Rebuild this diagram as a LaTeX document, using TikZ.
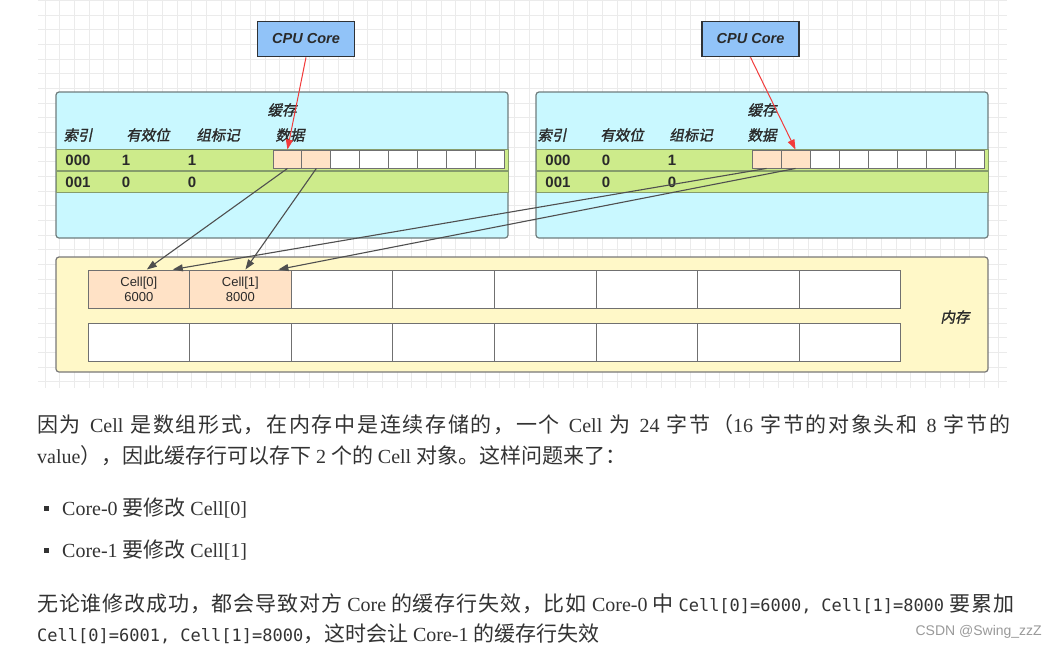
\documentclass[tikz,border=0pt]{standalone}
\usepackage{fontspec}
\setmainfont{Liberation Serif}
\newfontfamily\zh{Noto Sans CJK SC}[Scale=1.05]
\newfontfamily\zha{Noto Sans CJK SC}[Scale=1.05,LetterSpace=8]
\newfontfamily\zhb{Noto Sans CJK SC}[Scale=1.05,LetterSpace=4]
\newfontfamily\zhbi{Noto Sans CJK SC}[FakeSlant=0.2,FakeBold=1.5]
\newfontfamily\arial{Liberation Sans}
\newfontfamily\code{DejaVu Sans Mono}
\newcommand\en{\rmfamily}
\newcommand\cd{\code\fontsize{17}{20}\selectfont}
\usetikzlibrary{arrows.meta}
\definecolor{gridc}{HTML}{EBEBEB}
\definecolor{cpufill}{HTML}{91C3F8}
\definecolor{cpuborder}{HTML}{2E3236}
\definecolor{cachefill}{HTML}{C9F8FF}
\definecolor{cacheborder}{HTML}{6F7D7D}
\definecolor{rowfill}{HTML}{CDEB8B}
\definecolor{rowborder}{HTML}{869C6C}
\definecolor{cellorange}{HTML}{FFE2C6}
\definecolor{cellborder}{HTML}{707070}
\definecolor{memfill}{HTML}{FFF8C8}
\definecolor{memborder}{HTML}{787878}
\definecolor{redline}{HTML}{F23B3B}
\definecolor{grayline}{HTML}{4F4F4F}
\definecolor{textdark}{HTML}{2A2A2A}
\definecolor{paratext}{HTML}{333333}
\definecolor{wmark}{HTML}{9A9A9A}
\tikzset{
  gridline/.style={draw=gridc, line width=0.7pt},
  cpubox/.style={draw=cpuborder, fill=cpufill, line width=1.6pt, minimum width=97pt, minimum height=35pt, inner sep=0pt, text=textdark, font=\arial\bfseries\itshape\fontsize{14.5}{16}\selectfont},
  cachebox/.style={draw=cacheborder, fill=cachefill, line width=1.2pt, rounded corners=3pt, minimum width=452pt, minimum height=146pt, inner sep=0pt},
  rowbox/.style={draw=rowborder, fill=rowfill, line width=1pt, minimum width=452pt, minimum height=21pt, inner sep=0pt},
  dcell/.style={draw=cellborder, fill=white, line width=0.9pt, minimum width=28.9pt, minimum height=18pt, inner sep=0pt},
  dcello/.style={dcell, fill=cellorange},
  membox/.style={draw=memborder, fill=memfill, line width=1.2pt, rounded corners=3pt, minimum width=932pt, minimum height=115pt, inner sep=0pt},
  mcell/.style={draw=cellborder, fill=white, line width=1pt, minimum width=101.6pt, minimum height=38pt, inner sep=0pt, align=center, text=textdark, font=\arial\fontsize{13}{15}\selectfont},
  mcello/.style={mcell, fill=cellorange},
  hdr/.style={inner sep=0pt, text=textdark, font=\zhbi\fontsize{14.5}{16}\selectfont},
  val/.style={inner sep=0pt, text=textdark, font=\arial\bfseries\fontsize{15}{17}\selectfont},
  redarrow/.style={draw=redline, line width=1pt, -{Triangle[length=10pt,width=7pt]}},
  grayarrow/.style={draw=grayline, line width=1.1pt, -{Triangle[length=10pt,width=7pt]}},
  para/.style={anchor=west, inner sep=0pt, text=paratext, font=\fontsize{20}{24}\selectfont},
  bulletsq/.style={fill=paratext, minimum size=5pt, inner sep=0pt},
}
\begin{document}
\begin{tikzpicture}[x=1pt,y=-1pt]
\fill[white] (0,0) rectangle (1057,649);
\useasboundingbox (0,0) rectangle (1057,649);
% grid
\foreach \i in {0,...,65} \draw[gridline] ({45+\i*14.67},0) -- ({45+\i*14.67},388);
\foreach \j in {0,...,26} \draw[gridline] (38,{0.33+\j*14.67}) -- (1007,{0.33+\j*14.67});
% CPU cores
\node[cpubox] (cpuL) at (306,39) {CPU Core};
\node[cpubox] (cpuR) at (750.5,39) {CPU Core};
% caches
\node[cachebox] (cacheL) at (282,165) {};
\node[cachebox] (cacheR) at (762,165) {};
\node[rowbox] (rowL1) at (282,159.5) {};
\node[rowbox] (rowL2) at (282,181.5) {};
\node[rowbox] (rowR1) at (762,159.5) {};
\node[rowbox] (rowR2) at (762,181.5) {};
% headers left
\node[hdr] (tL) at (282,110) {缓存};
\node[hdr] (hL1) at (78,135) {索引};
\node[hdr] (hL2) at (148,135) {有效位};
\node[hdr] (hL3) at (218,135) {组标记};
\node[hdr] (hL4) at (290,135) {数据};
% headers right
\node[hdr] (tR) at (762,110) {缓存};
\node[hdr] (hR1) at (552,135) {索引};
\node[hdr] (hR2) at (622,135) {有效位};
\node[hdr] (hR3) at (691,135) {组标记};
\node[hdr] (hR4) at (762,135) {数据};
% values
\node[val] (vL11) at (78,160) {000};
\node[val] (vL12) at (126,160) {1};
\node[val] (vL13) at (192,160) {1};
\node[val] (vL21) at (78,182) {001};
\node[val] (vL22) at (126,182) {0};
\node[val] (vL23) at (192,182) {0};
\node[val] (vR11) at (558,160) {000};
\node[val] (vR12) at (606,160) {0};
\node[val] (vR13) at (672,160) {1};
\node[val] (vR21) at (558,182) {001};
\node[val] (vR22) at (606,182) {0};
\node[val] (vR23) at (672,182) {0};
% data cells
\node[dcello] (L1) at ({273+0.5*28.875},159) {};
\node[dcello] (L2) at ({273+1.5*28.875},159) {};
\foreach \k in {3,...,8} \node[dcell] (L\k) at ({273+(\k-0.5)*28.875},159) {};
\node[dcello] (R1) at ({752+0.5*29},159) {};
\node[dcello] (R2) at ({752+1.5*29},159) {};
\foreach \k in {3,...,8} \node[dcell] (R\k) at ({752+(\k-0.5)*29},159) {};
% memory
\node[membox] (mem) at (522,314.5) {};
\node[mcello] (M1) at ({88+0.5*101.6},289) {Cell[0]\\6000};
\node[mcello] (M2) at ({88+1.5*101.6},289) {Cell[1]\\8000};
\foreach \k in {3,...,8} \node[mcell] (M\k) at ({88+(\k-0.5)*101.6},289) {};
\foreach \k in {1,...,8} \node[mcell] (N\k) at ({88+(\k-0.5)*101.6},342) {};
\node[hdr] (memlabel) at (955,317) {内存};
% arrows
\draw[redarrow] (cpuL.south) -- (L1.north);
\draw[redarrow] (cpuR.south) -- (R2.north);
\draw[grayarrow] (L1.south) -- ([xshift=8pt]M1.north);
\draw[grayarrow] (L2.south) -- ([xshift=5pt]M2.north);
\draw[grayarrow] (R1.south) -- ([xshift=34pt]M1.north);
\draw[grayarrow] (R2.south) -- ([xshift=38pt]M2.north);
% text
\node[para] (p1) at (37,425) {\makebox[973pt][s]{\zha 因为 \en Cell \zha 是数组形式，在内存中是连续存储的，一个 \en Cell \zha 为 \en 24 \zha 字节（\en 16 \zha 字节的对象头和 \en 8 \zha 字节的}};
\node[para] (p2) at (37,456) {\en value\zh ），因此缓存行可以存下 \en 2 \zh 个的 \en Cell \zh 对象。这样问题来了：};
\node[bulletsq] (b1) at (46,508) {};
\node[para] (p3) at (62,508) {\en Core-0 \zh 要修改 \en Cell[0]};
\node[bulletsq] (b2) at (46,550) {};
\node[para] (p4) at (62,550) {\en Core-1 \zh 要修改 \en Cell[1]};
\node[para] (p5) at (37,604) {\makebox[977pt][s]{\zhb 无论谁修改成功，都会导致对方 \en Core \zhb 的缓存行失效，比如 \en Core-0 \zhb 中 {\cd Cell[0]=6000, Cell[1]=8000} \zhb 要累加}};
\node[para] (p6) at (37,634) {{\cd Cell[0]=6001, Cell[1]=8000}\zh ，这时会让 \en Core-1 \zh 的缓存行失效};
\node[anchor=east, inner sep=0pt, text=wmark, font=\arial\fontsize{14}{16}\selectfont] (wm) at (1042,632) {CSDN @Swing\_zzZ};
\end{tikzpicture}
\end{document}
